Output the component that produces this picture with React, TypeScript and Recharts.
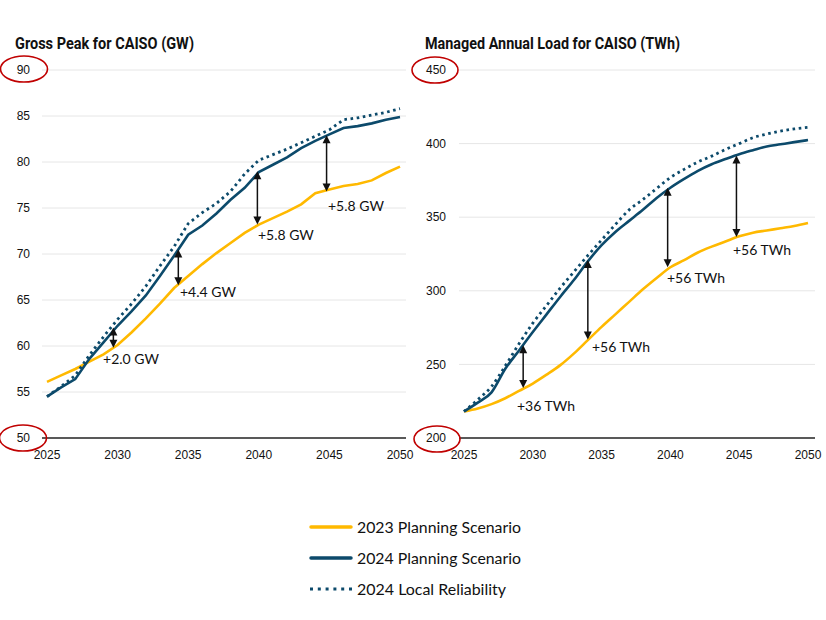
import React from 'react';
import { LineChart, Line, XAxis, YAxis, CartesianGrid, ReferenceLine, ReferenceDot } from 'recharts';

const years = [2025, 2026, 2027, 2028, 2029, 2030, 2031, 2032, 2033, 2034, 2035, 2036, 2037, 2038, 2039, 2040, 2041, 2042, 2043, 2044, 2045, 2046, 2047, 2048, 2049, 2050];
const xTicks = [2025, 2030, 2035, 2040, 2045, 2050];

const gw2023 = [56.1, 56.8, 57.5, 58.3, 59.1, 60.1, 61.5, 63.0, 64.6, 66.3, 67.6, 68.9, 70.1, 71.2, 72.3, 73.2, 73.9, 74.6, 75.4, 76.6, 77.0, 77.4, 77.6, 78.0, 78.8, 79.5];
const gw2024 = [54.5, 55.5, 56.4, 58.6, 60.4, 62.2, 63.8, 65.5, 67.6, 69.8, 72.1, 73.1, 74.4, 75.9, 77.2, 78.9, 79.7, 80.5, 81.5, 82.3, 83.0, 83.7, 83.9, 84.2, 84.6, 84.9];
const gwLocal = [54.5, 55.6, 56.8, 59.0, 61.0, 62.9, 64.6, 66.5, 68.7, 70.8, 73.3, 74.5, 75.5, 76.8, 78.7, 80.2, 80.8, 81.4, 82.1, 82.8, 83.5, 84.6, 84.8, 85.1, 85.4, 85.8];
const gwTicks = [50, 55, 60, 65, 70, 75, 80, 85, 90];

const twh2023 = [218, 220, 223, 227, 232, 237, 243, 249.5, 257.5, 266.5, 275.5, 284, 292.5, 301, 308.7, 316, 320.8, 326, 330, 333.5, 337, 339.5, 341, 342.5, 344, 346];
const twh2024 = [218, 224, 231, 247, 259.5, 272, 284, 296, 307.5, 320, 331, 340, 347.5, 355, 363, 370, 376, 381.5, 386, 389.5, 392.8, 395.5, 398, 399.5, 401, 402.4];
const twhLocal = [218, 226, 235, 249, 264, 278, 290, 302, 313, 324, 334.5, 345, 355, 362, 369.5, 377, 382.5, 387.5, 391.5, 396, 400, 404, 406.5, 408.5, 410, 411];
const twhTicks = [200, 250, 300, 350, 400, 450];

const gwArrowYears = [2029.7, 2034.3, 2039.9, 2044.8];
const gwArrowLow = [59.8, 66.6, 73.2, 76.8];
const gwArrowHigh = [62.0, 70.5, 79.0, 82.9];
const gwLabels = ['+2.0 GW', '+4.4 GW', '+5.8 GW', '+5.8 GW'];
const gwLabelYears = [2028.97, 2034.42, 2039.94, 2044.9];
const gwLabelValues = [58.6, 65.9, 72.1, 75.2];

const twhArrowYears = [2029.3, 2034.0, 2039.8, 2044.8];
const twhArrowLow = [234, 267, 316, 336.5];
const twhArrowHigh = [263, 321, 370, 392];
const twhLabels = ['+36 TWh', '+56 TWh', '+56 TWh', '+56 TWh'];
const twhLabelYears = [2028.85, 2034.3, 2039.75, 2044.55];
const twhLabelValues = [221.7, 261.8, 308.7, 327.7];

const seriesNames = ['2023 Planning Scenario', '2024 Planning Scenario', '2024 Local Reliability'];

const YELLOW = '#FFB900';
const BLUE = '#0C4A6B';
const tickFont = { fill: '#111', fontSize: 12, fontFamily: 'Liberation Sans, Arial, sans-serif' };

const gwData = years.map((y, i) => ({ year: y, a: gw2023[i], b: gw2024[i], c: gwLocal[i] }));
const twhData = years.map((y, i) => ({ year: y, a: twh2023[i], b: twh2024[i], c: twhLocal[i] }));

const ArrowShape = (p: any) => {
  const x = p.x1;
  const top = Math.min(p.y1, p.y2);
  const bot = Math.max(p.y1, p.y2);
  const h = 8;
  const w = 4;
  return (
    <g>
      <line x1={x} x2={x} y1={top + h - 1} y2={bot - h + 1} stroke="#111" strokeWidth={1.5} />
      <polygon points={`${x},${top} ${x - w},${top + h} ${x + w},${top + h}`} fill="#111" />
      <polygon points={`${x},${bot} ${x - w},${bot - h} ${x + w},${bot - h}`} fill="#111" />
    </g>
  );
};

const makeLabel = (text: string) => (p: any) => (
  <text x={p.cx} y={p.cy} dy="0.35em" fontSize={14} fontFamily="Lato, sans-serif" fill="#111">
    {text}
  </text>
);

function Panel(props: any) {
  const { data, domain, ticks, yWidth, width, marginRight, arrowYears, arrowLow, arrowHigh, labels, labelYears, labelValues, padL, padR, tickMarginY, curve } = props;
  return (
    <LineChart width={width} height={480} data={data} margin={{ top: 70, right: marginRight, bottom: 12, left: 0 }}>
      <CartesianGrid horizontal vertical={false} stroke="#e6e6e6" strokeWidth={1} />
      <XAxis
        dataKey="year"
        type="number"
        domain={[2025, 2050]}
        ticks={xTicks}
        interval={0}
        padding={{ left: padL, right: padR }}
        axisLine={{ stroke: '#262626', strokeWidth: 1.6 }}
        tickLine={false}
        tickSize={0}
        tickMargin={12}
        height={30}
        tick={tickFont}
      />
      <YAxis
        type="number"
        domain={domain}
        ticks={ticks}
        interval={0}
        width={yWidth}
        axisLine={false}
        tickLine={false}
        tickSize={0}
        tickMargin={tickMarginY}
        tick={tickFont}
      />
      <Line dataKey="a" type={curve} stroke={YELLOW} strokeWidth={2.6} dot={false} activeDot={false} isAnimationActive={false} />
      <Line dataKey="c" type={curve} stroke={BLUE} strokeWidth={2.8} strokeDasharray="2.6 3.6" dot={false} activeDot={false} isAnimationActive={false} />
      <Line dataKey="b" type={curve} stroke={BLUE} strokeWidth={2.6} dot={false} activeDot={false} isAnimationActive={false} />
      {arrowYears.map((yr: number, i: number) => (
        <ReferenceLine
          key={'ar' + i}
          segment={[{ x: yr, y: arrowLow[i] }, { x: yr, y: arrowHigh[i] }]}
          shape={ArrowShape}
        />
      ))}
      {labels.map((t: string, i: number) => (
        <ReferenceDot key={'lb' + i} x={labelYears[i]} y={labelValues[i]} r={0} shape={makeLabel(t)} />
      ))}
    </LineChart>
  );
}

export default function App() {
  return (
    <div style={{ position: 'absolute', left: 0, top: 0, width: 826, height: 620, background: '#fff', overflow: 'hidden' }}>
      <div style={{ position: 'absolute', left: 0, top: 0 }}>
        <Panel
          data={gwData}
          domain={[50, 90]}
          ticks={gwTicks}
          yWidth={42}
          width={420}
          marginRight={14}
          arrowYears={gwArrowYears}
          arrowLow={gwArrowLow}
          arrowHigh={gwArrowHigh}
          labels={gwLabels}
          labelYears={gwLabelYears}
          labelValues={gwLabelValues}
          padL={5}
          padR={6}
          tickMarginY={12}
          curve="linear"
        />
      </div>
      <div style={{ position: 'absolute', left: 410, top: 0 }}>
        <Panel
          data={twhData}
          domain={[200, 450]}
          ticks={twhTicks}
          yWidth={49}
          width={416}
          marginRight={11}
          arrowYears={twhArrowYears}
          arrowLow={twhArrowLow}
          arrowHigh={twhArrowHigh}
          labels={twhLabels}
          labelYears={twhLabelYears}
          labelValues={twhLabelValues}
          padL={5}
          padR={7}
          tickMarginY={13}
          curve="monotone"
        />
      </div>
      <svg width={826} height={620} style={{ position: 'absolute', left: 0, top: 0, pointerEvents: 'none' }}>
        <text x={15} y={49} fontSize={16} fontWeight={700} fontFamily="Roboto, sans-serif" fill="#111" textLength={179} lengthAdjust="spacingAndGlyphs">
          Gross Peak for CAISO (GW)
        </text>
        <text x={425} y={49} fontSize={16} fontWeight={700} fontFamily="Roboto, sans-serif" fill="#111" textLength={255} lengthAdjust="spacingAndGlyphs">
          Managed Annual Load for CAISO (TWh)
        </text>
        <g fill="none" stroke="#C00000" strokeWidth={1.6}>
          <ellipse cx={24} cy={69} rx={23.5} ry={13} />
          <ellipse cx={23} cy={438} rx={23.5} ry={13} />
          <ellipse cx={435} cy={70} rx={23} ry={13} />
          <ellipse cx={437} cy={439} rx={23} ry={13} />
        </g>
        <g>
          <line x1={311} x2={351} y1={527} y2={527} stroke={YELLOW} strokeWidth={3.5} strokeLinecap="round" />
          <line x1={311} x2={351} y1={558} y2={558} stroke={BLUE} strokeWidth={3.5} strokeLinecap="round" />
          <line x1={310} x2={352} y1={589} y2={589} stroke={BLUE} strokeWidth={3.2} strokeDasharray="3 4.8" />
          {seriesNames.map((n, i) => (
            <text key={n} x={357} y={533 + i * 31} fontSize={16} fontFamily="Lato, sans-serif" fill="#111" textLength={i === 2 ? 149 : 164} lengthAdjust="spacingAndGlyphs">
              {n}
            </text>
          ))}
        </g>
      </svg>
    </div>
  );
}
